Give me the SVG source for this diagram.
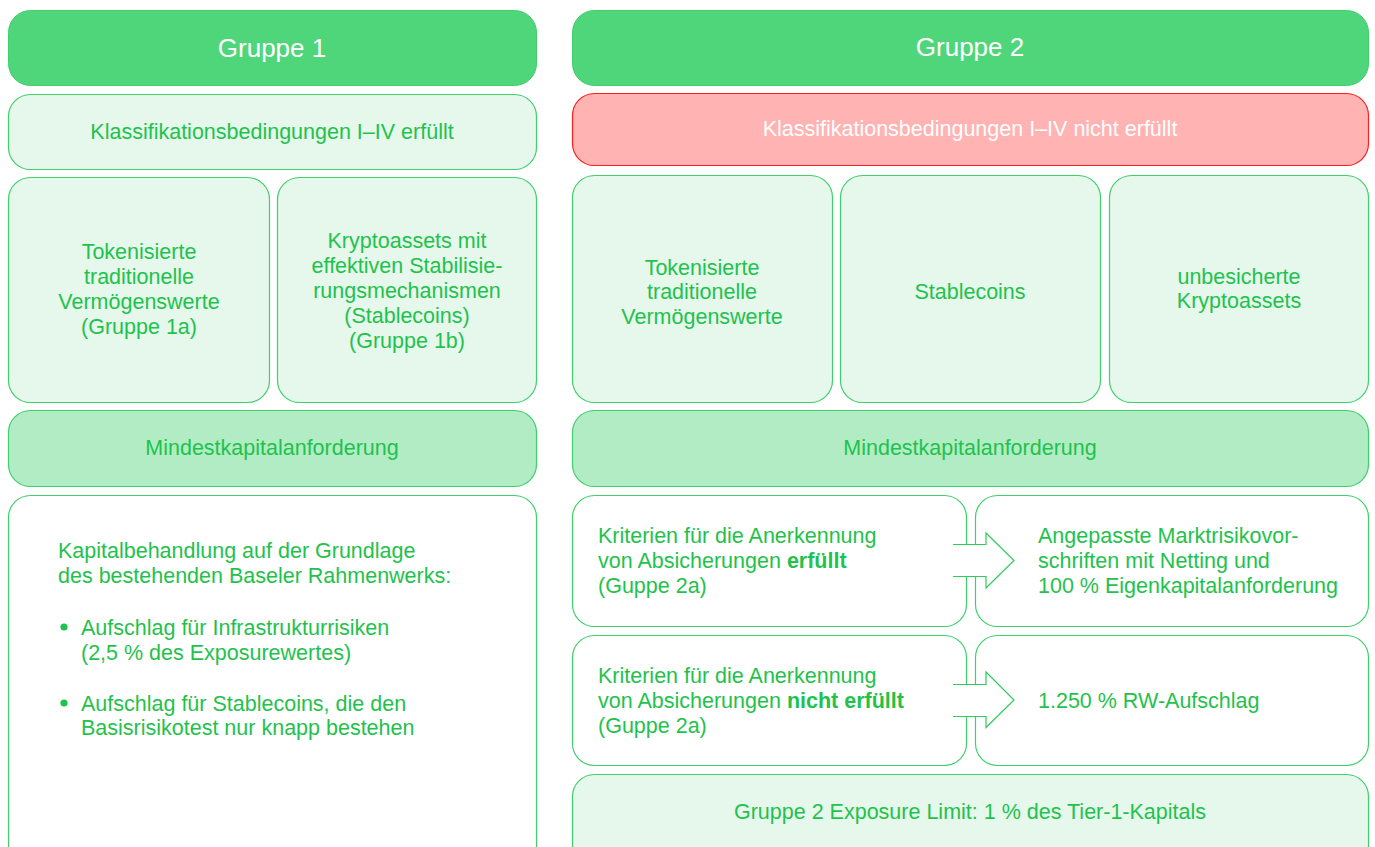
<svg xmlns="http://www.w3.org/2000/svg" width="1375" height="847" viewBox="0 0 1375 847">
<style>
  text { font-family: "Liberation Sans", Arial, sans-serif; font-size: 21.5px; fill: #1fc24c; }
  .c { text-anchor: middle; }
  .hdr { fill: #4fd67a; stroke: #3fcf6b; stroke-width: 1; }
  .hdrt { fill: #ffffff; font-size: 26px; text-anchor: middle; }
  .lite { fill: #e6f8ec; stroke: #3fcf6b; stroke-width: 1.2; }
  .mid { fill: #b2ecc5; stroke: #3fcf6b; stroke-width: 1.2; }
  .wht { fill: #ffffff; stroke: #3fcf6b; stroke-width: 1.2; }
  .red { fill: #ffb3b3; stroke: #ff1f1f; stroke-width: 1.2; }
  .redt { fill: #ffffff; text-anchor: middle; }
  .arr { fill: #ffffff; stroke: #2fcc5c; stroke-width: 1.2; }
  .b { font-weight: bold; }
</style>
<rect width="1375" height="847" fill="#ffffff"/>

<g id="gruppe1">
  <rect class="hdr" x="8.5" y="10.5" width="528" height="75" rx="22"/>
  <text class="hdrt" x="272" y="57">Gruppe 1</text>
</g>
<g id="gruppe2">
  <rect class="hdr" x="572.5" y="10.5" width="796" height="75" rx="22"/>
  <text class="hdrt" x="970" y="56">Gruppe 2</text>
</g>

<g id="klass1">
  <rect class="lite" x="8.5" y="94.5" width="528" height="75" rx="22"/>
  <text class="c" x="272" y="139">Klassifikationsbedingungen I–IV erfüllt</text>
</g>
<g id="klass2">
  <rect class="red" x="572.5" y="93.5" width="796" height="72" rx="22"/>
  <text class="redt" x="970" y="136">Klassifikationsbedingungen I–IV nicht erfüllt</text>
</g>

<g id="g1a">
  <rect class="lite" x="8.5" y="177.5" width="261" height="225" rx="22"/>
  <text class="c" x="139" y="259">Tokenisierte</text>
  <text class="c" x="139" y="284">traditionelle</text>
  <text class="c" x="139" y="309">Vermögenswerte</text>
  <text class="c" x="139" y="334">(Gruppe 1a)</text>
</g>
<g id="g1b">
  <rect class="lite" x="277.5" y="177.5" width="259" height="225" rx="22"/>
  <text class="c" x="407" y="248">Kryptoassets mit</text>
  <text class="c" x="407" y="273">effektiven Stabilisie-</text>
  <text class="c" x="407" y="298">rungsmechanismen</text>
  <text class="c" x="407" y="323">(Stablecoins)</text>
  <text class="c" x="407" y="348">(Gruppe 1b)</text>
</g>

<g id="g2tok">
  <rect class="lite" x="572.5" y="175.5" width="260" height="227" rx="22"/>
  <text class="c" x="702" y="275">Tokenisierte</text>
  <text class="c" x="702" y="299">traditionelle</text>
  <text class="c" x="702" y="324">Vermögenswerte</text>
</g>
<g id="g2stable">
  <rect class="lite" x="840.5" y="175.5" width="260" height="227" rx="22"/>
  <text class="c" x="970" y="299">Stablecoins</text>
</g>
<g id="g2unbes">
  <rect class="lite" x="1109.5" y="175.5" width="259" height="227" rx="22"/>
  <text class="c" x="1239" y="284">unbesicherte</text>
  <text class="c" x="1239" y="308">Kryptoassets</text>
</g>

<g id="mind1">
  <rect class="mid" x="8.5" y="410.5" width="528" height="76" rx="22"/>
  <text class="c" x="272" y="455">Mindestkapitalanforderung</text>
</g>
<g id="mind2">
  <rect class="mid" x="572.5" y="410.5" width="796" height="76" rx="22"/>
  <text class="c" x="970" y="455">Mindestkapitalanforderung</text>
</g>

<g id="kapital1">
  <rect class="wht" x="8.5" y="495.5" width="528" height="380" rx="22"/>
  <text x="58" y="558">Kapitalbehandlung auf der Grundlage</text>
  <text x="58" y="583">des bestehenden Baseler Rahmenwerks:</text>
  <circle cx="64" cy="627" r="3.6" fill="#1fc24c"/>
  <text x="81" y="635">Aufschlag für Infrastrukturrisiken</text>
  <text x="81" y="660">(2,5 % des Exposurewertes)</text>
  <circle cx="64" cy="703" r="3.6" fill="#1fc24c"/>
  <text x="81" y="711">Aufschlag für Stablecoins, die den</text>
  <text x="81" y="735">Basisrisikotest nur knapp bestehen</text>
</g>

<g id="krit1">
  <rect class="wht" x="572.5" y="495.5" width="394" height="131" rx="22"/>
  <text x="598" y="543">Kriterien für die Anerkennung</text>
  <text x="598" y="568">von Absicherungen <tspan class="b">erfüllt</tspan></text>
  <text x="598" y="593">(Guppe 2a)</text>
</g>
<g id="markt">
  <rect class="wht" x="975.5" y="495.5" width="393" height="131" rx="22"/>
  <text x="1038" y="543">Angepasste Marktrisikovor-</text>
  <text x="1038" y="568">schriften mit Netting und</text>
  <text x="1038" y="593">100 % Eigenkapitalanforderung</text>
</g>
<g id="krit2">
  <rect class="wht" x="572.5" y="635.5" width="394" height="130" rx="22"/>
  <text x="598" y="683">Kriterien für die Anerkennung</text>
  <text x="598" y="708">von Absicherungen <tspan class="b">nicht erfüllt</tspan></text>
  <text x="598" y="733">(Guppe 2a)</text>
</g>
<g id="rw">
  <rect class="wht" x="975.5" y="635.5" width="393" height="130" rx="22"/>
  <text x="1038" y="708">1.250 % RW-Aufschlag</text>
</g>

<g id="limit">
  <rect class="lite" x="572.5" y="774.5" width="796" height="100" rx="22"/>
  <text class="c" x="970" y="819">Gruppe 2 Exposure Limit: 1 % des Tier-1-Kapitals</text>
</g>

<g id="connectors">
  <path class="arr" d="M953,544.5 L986,544.5 L986,533 L1014,560.5 L986,588 L986,576.5 L953,576.5"/>
  <path class="arr" d="M953,684.5 L986,684.5 L986,672 L1014,700 L986,727.5 L986,716.5 L953,716.5"/>
</g>
</svg>
